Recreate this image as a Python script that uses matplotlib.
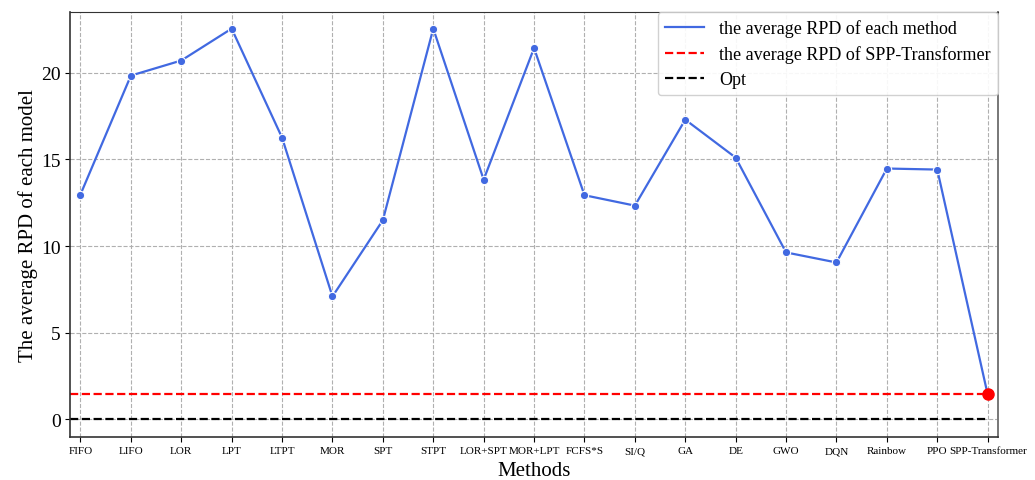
import matplotlib
matplotlib.use("Agg")
import matplotlib.pyplot as plt

methods = ["FIFO", "LIFO", "LOR", "LPT", "LTPT", "MOR", "SPT", "STPT", "LOR+SPT",
           "MOR+LPT", "FCFS*S", "SI/Q", "GA", "DE", "GWO", "DQN", "Rainbow", "PPO",
           "SPP-Transformer"]
avg_rpd = [12.97, 19.83, 20.70, 22.54, 16.25, 7.09, 11.49, 22.54, 13.83,
           21.42, 12.93, 12.33, 17.29, 15.10, 9.63, 9.05, 14.47, 14.41, 1.44]
spp_rpd = 1.44
opt_rpd = 0.0

plt.rcParams['font.family'] = ['Liberation Serif', 'DejaVu Serif']

fig, ax = plt.subplots(figsize=(10.35, 4.81), dpi=100)
x = list(range(len(methods)))

ax.plot(x, avg_rpd, color='royalblue', lw=1.6,
        label='the average RPD of each method', zorder=3)
ax.plot(x, avg_rpd, ls='none', color='royalblue', marker='o', ms=6,
        mec='white', mew=0.8, zorder=3)
ax.hlines(spp_rpd, -0.2, len(methods) - 1, colors='red', linestyles='--', lw=1.6,
          label='the average RPD of SPP-Transformer', zorder=2)
ax.hlines(opt_rpd, -0.2, len(methods) - 1, colors='black', linestyles='--', lw=1.6,
          label='Opt', zorder=2)
ax.plot(x[-1], spp_rpd, 'o', color='red', ms=8, zorder=4)

ax.set_xlim(-0.2, len(methods) - 0.8)
ax.set_ylim(-1.0, 23.5)
ax.set_xticks(x)
ax.set_xticklabels(methods, fontsize=8)
ax.set_yticks([0, 5, 10, 15, 20])
ax.tick_params(axis='y', labelsize=14)
ax.set_xlabel('Methods', fontsize=15, labelpad=4)
ax.set_ylabel('The average RPD of each model', fontsize=15, labelpad=2)
ax.grid(True, ls='--', color='#b0b0b0', lw=0.8)
ax.set_axisbelow(True)
for s in ax.spines.values():
    s.set_color('#333333')
ax.spines['right'].set_color('#777777')
ax.spines['right'].set_linewidth(1.4)
ax.spines['left'].set_linewidth(1.2)
ax.spines['bottom'].set_linewidth(1.2)

ax.legend(loc='upper right', fontsize=13, borderaxespad=0, framealpha=0.9,
          handlelength=2.2, labelspacing=0.45)

fig.subplots_adjust(left=0.068, right=0.964, top=0.973, bottom=0.09)
fig.savefig('out.png', dpi=100)
